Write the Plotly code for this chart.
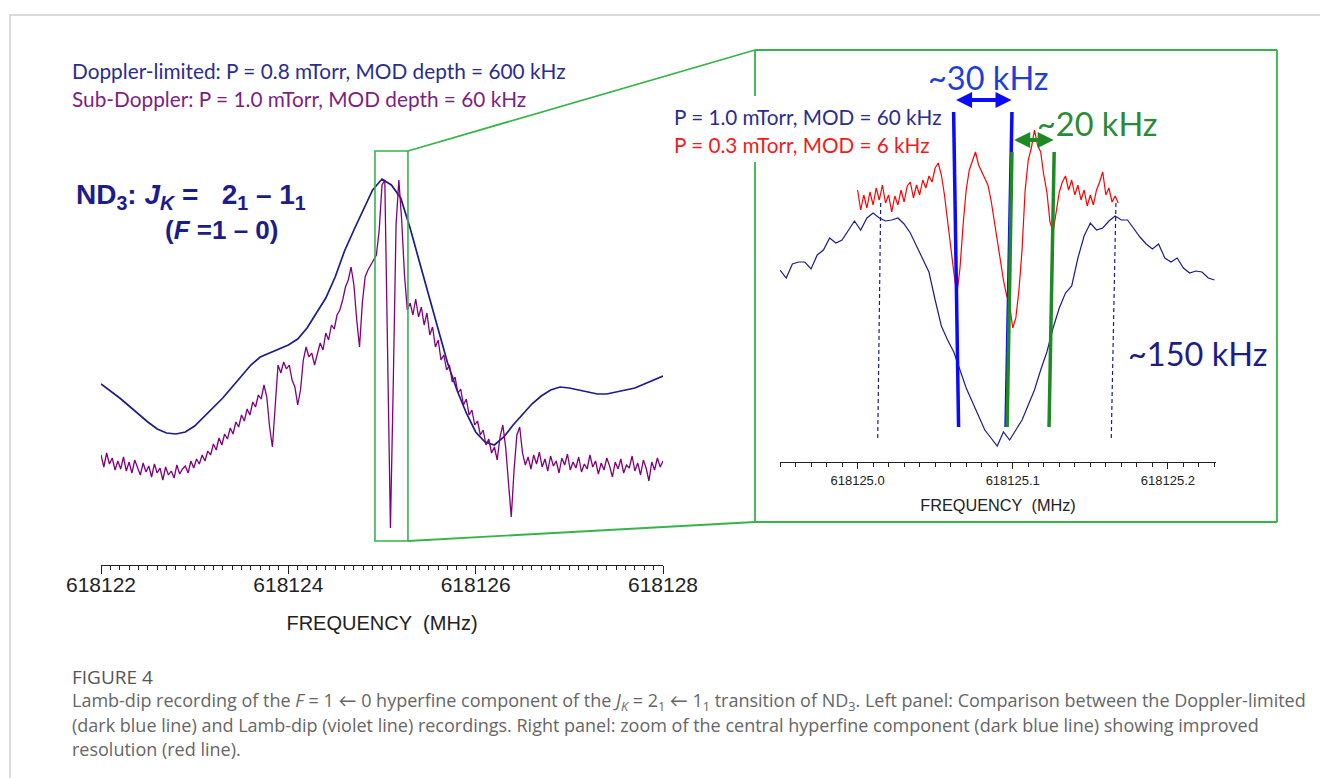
import plotly.graph_objects as go

# ---------------- data ----------------
# Left panel: Doppler-limited recording (dark blue), sampled every 0.1 MHz
LEFT_DOPPLER_START = 618122.0
LEFT_DOPPLER_STEP = 0.1
left_doppler = [181, 174, 167, 159, 151, 143, 136, 132, 131, 133,
                139, 148, 157, 167, 178, 189, 200, 208, 212, 216,
                220, 226, 237, 252, 267, 288, 314, 335, 355, 375,
                386, 380, 367, 337, 303, 269, 235, 202, 175, 152,
                133, 123, 120, 128, 140, 151, 161, 169, 175, 178,
                177, 175, 173, 171, 171, 173, 175, 177, 181, 185, 189]

# Left panel: sub-Doppler (Lamb-dip) recording (violet), sampled every 0.03 MHz
LEFT_SUB_START = 618122.0
LEFT_SUB_STEP = 0.03
left_subdoppler = [110, 98, 112, 101, 107, 95, 104, 96, 108, 94,
                   103, 92, 105, 97, 90, 102, 93, 99, 88, 101,
                   92, 97, 85, 98, 90, 94, 87, 100, 91, 96,
                   99, 92, 104, 97, 106, 101, 110, 104, 114, 110,
                   121, 115, 127, 120, 131, 126, 137, 131, 143, 138,
                   150, 144, 156, 150, 163, 158, 170, 166, 180, 168,
                   138, 118, 160, 200, 192, 203, 196, 200, 185, 178,
                   160, 175, 205, 218, 208, 212, 200, 210, 222, 215,
                   232, 225, 240, 236, 250, 255, 265, 278, 285, 298,
                   280, 245, 218, 262, 288, 295, 300, 306, 310, 335,
                   380, 385, 200, 37, 180, 340, 385, 345, 290, 255,
                   262, 250, 266, 248, 258, 240, 252, 230, 238, 218,
                   225, 205, 210, 195, 200, 183, 188, 172, 176, 160,
                   166, 150, 155, 140, 144, 130, 135, 120, 126, 112,
                   118, 105, 128, 140, 118, 80, 48, 95, 130, 138,
                   112, 100, 108, 96, 110, 101, 113, 98, 106, 94,
                   109, 99, 104, 92, 107, 100, 111, 95, 103, 97,
                   108, 93, 101, 96, 110, 98, 104, 91, 102, 95,
                   107, 99, 88, 103, 96, 106, 92, 100, 97, 109,
                   94, 102, 90, 105, 97, 84, 103, 95, 107, 98, 104]

# Right panel: central hyperfine component, P = 1.0 mTorr, MOD = 60 kHz (dark blue)
RIGHT_DOPPLER_START = 618124.950
RIGHT_DOPPLER_STEP = 0.004
right_doppler = [192, 184, 198, 200, 200, 193, 207, 212, 224, 219,
                 222, 232, 241, 232, 244, 249, 244, 241, 242, 244,
                 238, 229, 216, 204, 190, 162, 136, 122, 110, 92,
                 74, 60, 46, 32, 24, 16, 30, 22, 32, 42,
                 57, 72, 92, 110, 134, 154, 169, 176, 204, 226,
                 239, 232, 234, 241, 246, 242, 242, 233, 225, 218,
                 213, 218, 204, 200, 204, 194, 189, 191, 190, 184, 182]

# Right panel: improved resolution, P = 0.3 mTorr, MOD = 6 kHz (red)
RIGHT_LAMB_START = 618125.000
RIGHT_LAMB_STEP = 0.002
right_lamb = [272, 252, 267, 254, 270, 257, 274, 262, 277, 259,
              267, 250, 266, 257, 272, 260, 276, 280, 264, 277,
              267, 282, 274, 286, 280, 294, 299, 287, 267, 240,
              212, 190, 167, 194, 237, 272, 292, 302, 310, 297,
              290, 284, 277, 262, 242, 222, 200, 182, 167, 157,
              134, 144, 172, 212, 272, 302, 314, 332, 317, 310,
              287, 270, 240, 230, 250, 270, 280, 286, 272, 282,
              267, 277, 262, 272, 256, 267, 257, 272, 280, 290,
              267, 274, 260, 266, 259]

# Axis ranges and tick labels
LEFT_RANGE = [618122.0, 618128.0]
LEFT_TICKS = [618122, 618124, 618126, 618128]
RIGHT_RANGE = [618124.950, 618125.231]
RIGHT_TICKS = [618125.0, 618125.1, 618125.2]

# Zoomed region shown in the right panel (left-panel data units)
ZOOM_FREQ = [618124.925, 618125.277]
ZOOM_SIG = [24, 414]

# Width markers in right panel: (f_top, v_top, f_bottom, v_bottom)
BLUE_MARKS = [(618125.0619, 350, 618125.0651, 35),
              (618125.0995, 350, 618125.0957, 35)]
GREEN_MARKS = [(618125.0995, 310, 618125.0964, 35),
               (618125.1267, 310, 618125.1234, 35)]
DASH_MARKS = [(618125.0149, 259, 618125.0130, 24),
              (618125.1665, 259, 618125.1635, 24)]
BLUE_ARROW = (618125.0625, 618125.0992, 362)
GREEN_ARROW = (618125.1000, 618125.1264, 322)

# ---------------- layout geometry (pixels of the 1320x778 page) ----------------
W, H = 1320, 778
def px(x):
    return x / W
def py(y):
    return 1 - y / H

XDOM_L = [px(101), px(663)]
YDOM_L = [py(565), py(40)]
YRANGE_L = [0, 525]
XDOM_R = [px(780), px(1216)]
YDOM_R = [py(462), py(55)]
YRANGE_R = [0, 407]

NAVY = "#1c1c8a"
VIOLET = "#800080"
RED = "#ff0000"
BLUE = "#0a0aff"
DGREEN = "#1f8a24"
BOXGREEN = "#38b34a"
AXC = "#222222"

def grid(start, step, n):
    return [start + i * step for i in range(n)]

fig = go.Figure()
fig.add_trace(go.Scatter(x=grid(LEFT_DOPPLER_START, LEFT_DOPPLER_STEP, len(left_doppler)),
                         y=left_doppler, mode="lines", line=dict(color=NAVY, width=1.7),
                         xaxis="x", yaxis="y", hoverinfo="skip", showlegend=False))
fig.add_trace(go.Scatter(x=grid(LEFT_SUB_START, LEFT_SUB_STEP, len(left_subdoppler)),
                         y=left_subdoppler, mode="lines", line=dict(color=VIOLET, width=1.3),
                         xaxis="x", yaxis="y", hoverinfo="skip", showlegend=False))
fig.add_trace(go.Scatter(x=grid(RIGHT_DOPPLER_START, RIGHT_DOPPLER_STEP, len(right_doppler)),
                         y=right_doppler, mode="lines", line=dict(color=NAVY, width=1.2),
                         xaxis="x2", yaxis="y2", hoverinfo="skip", showlegend=False))
fig.add_trace(go.Scatter(x=grid(RIGHT_LAMB_START, RIGHT_LAMB_STEP, len(right_lamb)),
                         y=right_lamb, mode="lines", line=dict(color=RED, width=1.2),
                         xaxis="x2", yaxis="y2", hoverinfo="skip", showlegend=False))

axis_common = dict(showgrid=False, zeroline=False, showline=True, linecolor=AXC, linewidth=1.2,
                   ticks="outside", tickcolor=AXC, tickwidth=1.2, tickmode="array",
                   fixedrange=True, automargin=False)

left_minor = [LEFT_RANGE[0] + 0.1 * i for i in range(61)]
right_minor = [RIGHT_RANGE[0] + 0.01 * i for i in range(29)]

fig.update_layout(
    width=W, height=H, margin=dict(l=0, r=0, t=0, b=0, pad=0), autosize=False,
    paper_bgcolor="white", plot_bgcolor="rgba(0,0,0,0)",
    xaxis=dict(axis_common, domain=XDOM_L, range=LEFT_RANGE, anchor="y",
               tickvals=LEFT_TICKS, ticktext=[str(t) for t in LEFT_TICKS], ticklen=8,
               ticklabelstandoff=-7,
               tickfont=dict(family="Liberation Sans, Arial", size=21, color=AXC),
               minor=dict(tickmode="array", tickvals=left_minor, ticklen=4, tickwidth=1,
                          tickcolor=AXC, ticks="outside"),
               title=dict(text="FREQUENCY\u00a0\u00a0(MHz)", standoff=20,
                          font=dict(family="Liberation Sans, Arial", size=20, color=AXC))),
    yaxis=dict(domain=YDOM_L, range=YRANGE_L, anchor="x", visible=False, fixedrange=True,
               automargin=False),
    xaxis2=dict(axis_common, domain=XDOM_R, range=RIGHT_RANGE, anchor="y2",
                tickvals=RIGHT_TICKS, ticktext=["%.1f" % t for t in RIGHT_TICKS], ticklen=6,
                tickfont=dict(family="Liberation Sans, Arial", size=13, color=AXC),
                minor=dict(tickmode="array", tickvals=right_minor, ticklen=3.5, tickwidth=1,
                           tickcolor=AXC, ticks="outside"),
                title=dict(text="FREQUENCY\u00a0\u00a0(MHz)", standoff=12,
                           font=dict(family="Liberation Sans, Arial", size=16.3, color=AXC))),
    yaxis2=dict(domain=YDOM_R, range=YRANGE_R, anchor="x2", visible=False, fixedrange=True,
                automargin=False),
)

# map left-panel data to paper coords for the zoom connectors
def lx(f):
    return XDOM_L[0] + (f - LEFT_RANGE[0]) / (LEFT_RANGE[1] - LEFT_RANGE[0]) * (XDOM_L[1] - XDOM_L[0])
def ly(v):
    return YDOM_L[0] + (v - YRANGE_L[0]) / (YRANGE_L[1] - YRANGE_L[0]) * (YDOM_L[1] - YDOM_L[0])

shapes = []
# outer light gray frame
shapes.append(dict(type="rect", xref="paper", yref="paper", x0=px(10), y0=py(15), x1=1.05, y1=-0.05,
                   line=dict(color="#cfcfcf", width=1.5), fillcolor="rgba(0,0,0,0)"))
# zoom box in left panel
shapes.append(dict(type="rect", xref="x", yref="y", x0=ZOOM_FREQ[0], x1=ZOOM_FREQ[1],
                   y0=ZOOM_SIG[0], y1=ZOOM_SIG[1], line=dict(color=BOXGREEN, width=1.6)))
# right box (left edge split around the legend text)
RB = dict(l=px(755), r=px(1277), t=py(50), b=py(522))
gl = dict(color=BOXGREEN, width=1.8)
shapes += [
    dict(type="line", xref="paper", yref="paper", x0=RB["l"], x1=RB["r"], y0=RB["t"], y1=RB["t"], line=gl),
    dict(type="line", xref="paper", yref="paper", x0=RB["l"], x1=RB["r"], y0=RB["b"], y1=RB["b"], line=gl),
    dict(type="line", xref="paper", yref="paper", x0=RB["r"], x1=RB["r"], y0=RB["t"], y1=RB["b"], line=gl),
    dict(type="line", xref="paper", yref="paper", x0=RB["l"], x1=RB["l"], y0=RB["t"], y1=py(96), line=gl),
    dict(type="line", xref="paper", yref="paper", x0=RB["l"], x1=RB["l"], y0=py(162), y1=RB["b"], line=gl),
    # connectors
    dict(type="line", xref="paper", yref="paper", x0=lx(ZOOM_FREQ[1]), y0=ly(ZOOM_SIG[1]),
         x1=RB["l"], y1=RB["t"], line=gl),
    dict(type="line", xref="paper", yref="paper", x0=lx(ZOOM_FREQ[1]), y0=ly(ZOOM_SIG[0]),
         x1=RB["l"], y1=RB["b"], line=gl),
]
for f0, v0, f1, v1 in DASH_MARKS:
    shapes.append(dict(type="line", xref="x2", yref="y2", x0=f0, y0=v0, x1=f1, y1=v1,
                       line=dict(color=NAVY, width=1.2, dash="4px,3px")))
for f0, v0, f1, v1 in BLUE_MARKS:
    shapes.append(dict(type="line", xref="x2", yref="y2", x0=f0, y0=v0, x1=f1, y1=v1,
                       line=dict(color=BLUE, width=3.5)))
for f0, v0, f1, v1 in GREEN_MARKS:
    shapes.append(dict(type="line", xref="x2", yref="y2", x0=f0, y0=v0, x1=f1, y1=v1,
                       line=dict(color=DGREEN, width=3.5)))
fig.update_layout(shapes=shapes)

CAL = "Lato, Open Sans, sans-serif"
OPEN = "Open Sans, Lato, sans-serif"
ann = []
def txt(x, y, text, size, color, family=CAL, xanchor="left", **kw):
    ann.append(dict(xref="paper", yref="paper", x=px(x), y=py(y), text=text, showarrow=False,
                    xanchor=xanchor, yanchor="middle", font=dict(family=family, size=size, color=color), **kw))

txt(70, 71, "Doppler-limited: P = 0.8 mTorr, MOD depth = 600 kHz", 20.8, "#2b2d8e")
txt(70, 98, "Sub-Doppler: P = 1.0 mTorr, MOD depth = 60 kHz", 20.8, "#7d1f82")
ARIAL = "Liberation Sans, Arial"
txt(74, 196, "<b>ND<sub>3</sub>: <i>J<sub>K</sub></i> =\u00a0\u00a0 2<sub>1</sub> \u2013 1<sub>1</sub></b>", 28, NAVY, ARIAL)
txt(163, 230, "<b>(<i>F</i> =1 \u2013 0)</b>", 26, NAVY, ARIAL)
txt(672, 117, "P = 1.0 mTorr, MOD = 60 kHz", 20.7, "#2b2d8e")
txt(672, 145, "P = 0.3 mTorr, MOD = 6 kHz", 20.7, "#f01c1c")
txt(988, 77, "~30 kHz", 32.5, "#1d3fd9", xanchor="center")
txt(1097, 123, "~20 kHz", 32.5, "#2a8a35", xanchor="center")
txt(1197, 353, "~150 kHz", 32.5, NAVY, xanchor="center")

# caption
txt(70, 677, "FIGURE 4", 19, "#555555", OPEN)
cap = "#666666"
txt(70, 701, "Lamb-dip recording of the <i>F</i> = 1 \u2190 0 hyperfine component of the <i>J<sub>K</sub></i> = 2<sub>1</sub> \u2190 1<sub>1</sub> transition of ND<sub>3</sub>. Left panel: Comparison between the Doppler-limited", 18, cap, OPEN)
txt(70, 725, "(dark blue line) and Lamb-dip (violet line) recordings. Right panel: zoom of the central hyperfine component (dark blue line) showing improved", 18, cap, OPEN)
txt(70, 749, "resolution (red line).", 18, cap, OPEN)

# double-headed width arrows
for (fa, fb, v), col in ((BLUE_ARROW, BLUE), (GREEN_ARROW, DGREEN)):
    ann.append(dict(xref="x2", yref="y2", axref="x2", ayref="y2", x=fb, y=v, ax=fa, ay=v, text="",
                    showarrow=True, arrowhead=2, startarrowhead=2, arrowside="end+start",
                    arrowwidth=4, arrowsize=0.8, startarrowsize=0.8, arrowcolor=col, standoff=0, startstandoff=0))
fig.update_layout(annotations=ann)

fig.write_html("out.html")
